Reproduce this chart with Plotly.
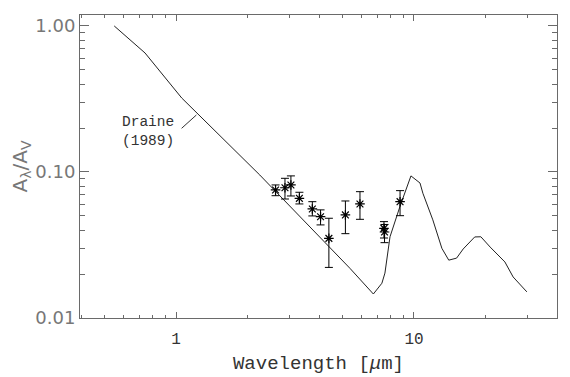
import math
import plotly.graph_objects as go

# Draine (1989) extinction curve
curve_wav = [0.55, 0.741, 1.057, 2.25, 5.38, 6.75, 7.33, 7.55, 7.93, 8.73, 9.71,
             10.6, 10.9, 12.0, 13.1, 14.0, 15.1, 16.1, 18.0, 19.1, 20.9, 24.1, 26.1, 29.8]
curve_ext = [1.0, 0.653, 0.321, 0.0953, 0.0219, 0.0146, 0.0173, 0.0203, 0.036, 0.058, 0.094,
             0.084, 0.0715, 0.047, 0.030, 0.0249, 0.0257, 0.0297, 0.0359, 0.036, 0.0306, 0.0242, 0.0191, 0.0151]

# Measured points with error bars
pt_wav = [2.62, 2.87, 3.04, 3.30, 3.74, 4.05, 4.39, 5.15, 5.93, 7.48, 7.52, 8.74]
pt_ext = [0.0753, 0.078, 0.0815, 0.066, 0.0558, 0.0494, 0.0351, 0.0508, 0.0604, 0.0411, 0.0388, 0.0626]
pt_hi = [0.0815, 0.0905, 0.094, 0.0726, 0.0626, 0.055, 0.0482, 0.0633, 0.0733, 0.0457, 0.0437, 0.0745]
pt_lo = [0.0688, 0.0653, 0.0685, 0.0604, 0.050, 0.0434, 0.0222, 0.0378, 0.0474, 0.0353, 0.0328, 0.0502]

x_ticks = [1, 10]
x_ticktext = ["1", "10"]
x_minor = [0.4, 0.5, 0.6, 0.7, 0.8, 0.9, 2, 3, 4, 5, 6, 7, 8, 9, 20, 30]
y_ticks = [0.01, 0.1, 1.0]
y_ticktext = ["0.01", "0.10", "1.00"]
y_minor = [0.02, 0.03, 0.04, 0.05, 0.06, 0.07, 0.08, 0.09, 0.2, 0.3, 0.4, 0.5, 0.6, 0.7, 0.8, 0.9]

axcol = "#6a6a6a"
mono = "Liberation Mono, Courier New, monospace"
sans = "DejaVu Sans, Arial, sans-serif"

fig = go.Figure()
fig.add_trace(go.Scatter(x=curve_wav, y=curve_ext, mode="lines",
                         line=dict(color="#222222", width=1), showlegend=False))
fig.add_trace(go.Scatter(
    x=pt_wav, y=pt_ext, mode="markers",
    marker=dict(symbol="asterisk-open", size=8, color="black",
                line=dict(color="black", width=1.2)),
    error_y=dict(type="data", symmetric=False,
                 array=[h - v for h, v in zip(pt_hi, pt_ext)],
                 arrayminus=[v - l for v, l in zip(pt_ext, pt_lo)],
                 color="black", thickness=1, width=4),
    showlegend=False))

fig.add_annotation(x=0.142, y=0.616, xref="paper", yref="paper",
                   xanchor="center", yanchor="middle",
                   text="Draine<br>(1989)", showarrow=False,
                   font=dict(family=mono, size=14.5, color="#333333"))
fig.add_shape(type="line", xref="paper", yref="paper",
              x0=0.213, y0=0.626, x1=0.244, y1=0.670,
              line=dict(color="#333333", width=1))

fig.update_xaxes(type="log", range=[math.log10(0.395), math.log10(39.9)],
                 tickvals=x_ticks, ticktext=x_ticktext, automargin=False,
                 ticks="inside", ticklen=6, tickcolor=axcol, tickwidth=1,
                 ticklabelstandoff=6,
                 minor=dict(tickvals=x_minor, ticks="inside", ticklen=3,
                            tickcolor=axcol, tickwidth=1, showgrid=False),
                 showline=True, linecolor=axcol, linewidth=1, mirror="ticks",
                 showgrid=False, zeroline=False,
                 tickfont=dict(family=mono, size=16, color="#333333"),
                 title=dict(text="Wavelength [<i>μ</i>m]", standoff=7,
                            font=dict(family=mono, size=19, color="#333333")))
fig.update_yaxes(type="log", range=[-2, 0.075],
                 tickvals=y_ticks, ticktext=y_ticktext, automargin=False,
                 ticks="inside", ticklen=9, tickcolor=axcol, tickwidth=1,
                 minor=dict(tickvals=y_minor, ticks="inside", ticklen=5,
                            tickcolor=axcol, tickwidth=1, showgrid=False),
                 showline=True, linecolor=axcol, linewidth=1, mirror="ticks",
                 showgrid=False, zeroline=False,
                 tickfont=dict(family=sans, size=18, color="#777777"),
                 title=dict(text="A<sub>λ</sub>/A<sub>V</sub>", standoff=8,
                            font=dict(family=sans, size=20, color="#777777")))

fig.update_layout(width=570, height=377,
                  margin=dict(l=72, r=20.5, t=7, b=67, autoexpand=False),
                  paper_bgcolor="white", plot_bgcolor="white")

fig.write_html("out.html")
